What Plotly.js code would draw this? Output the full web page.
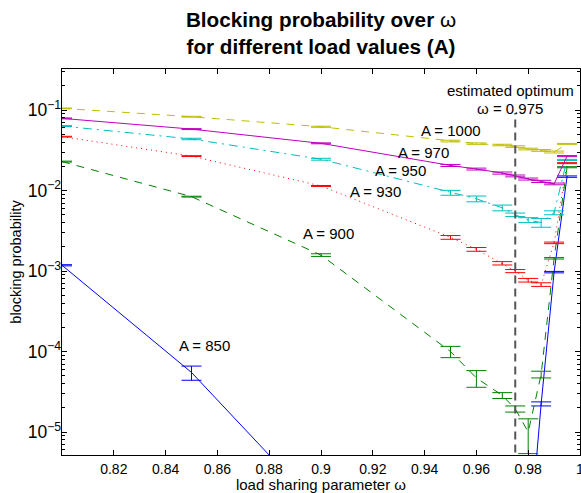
<!DOCTYPE html>
<html>
<head>
<meta charset="utf-8">
<script src="https://cdn.plot.ly/plotly-3.0.1.min.js"></script>
<style>html,body{margin:0;padding:0;background:#fff;}#chart{width:581px;height:493px;}</style>
</head>
<body>
<div id="chart"></div>
<script>
// ---- data ----
const omega = [0.8, 0.85, 0.9, 0.95, 0.96, 0.97, 0.975, 0.98, 0.985, 0.99, 0.995];
const loads = ['850', '900', '930', '950', '970', '1000'];
const pb850  = [1.18e-3, 5.5e-5, 1.07e-6, null, null, null, null, 3e-7, 2.24e-5, 9.7e-4, 1.49e-2];
const err850 = [2e-5, 1.1e-5, 0, null, null, null, null, 0, 1.3e-6, 2e-5, 3e-4];
const pb900  = [0.0229, 0.0084, 0.00158, 1.0e-4, 4.7e-5, 2.85e-5, 1.94e-5, 1.0e-5, 5.2e-5, 1.44e-3, 0.0195];
const err900 = [3e-4, 1e-4, 6e-5, 1.6e-5, 1.1e-5, 2.4e-6, 1.7e-6, 4.6e-6, 5e-6, 3e-5, 3e-4];
const pb930  = [0.0467, 0.0268, 0.0114, 0.00262, 0.00186, 0.00125, 0.00100, 0.00077, 0.00068, 0.00224, 0.0219];
const err930 = [5e-4, 3e-4, 1.5e-4, 1.4e-4, 1e-4, 6e-5, 4.5e-5, 4e-5, 3.5e-5, 5e-5, 3e-4];
const pb950  = [0.0633, 0.0437, 0.0245, 0.0094, 0.0079, 0.0061, 0.0050, 0.0043, 0.0040, 0.0053, 0.024];
const err950 = [8e-4, 9e-4, 6.5e-4, 6.6e-4, 6.5e-4, 5e-4, 2.5e-4, 3e-4, 5e-4, 3e-4, 4e-4];
const pb970  = [0.0788, 0.058, 0.0386, 0.0205, 0.0185, 0.0165, 0.0152, 0.0139, 0.0130, 0.0121, 0.0268];
const err970 = [1e-3, 8e-4, 5e-4, 6e-4, 5e-4, 5e-4, 4e-4, 4e-4, 4e-4, 3e-4, 4e-4];
const pb1000  = [0.105, 0.0826, 0.062, 0.0412, 0.0383, 0.0368, 0.0352, 0.0328, 0.0315, 0.0301, 0.038];
const err1000 = [1e-3, 1e-3, 1e-3, 1e-3, 8e-4, 8e-4, 8e-4, 8e-4, 8e-4, 8e-4, 5e-4];
const optimum = 0.975;
const optimumLineTop = 0.092;
const xTickVals = [0.82, 0.84, 0.86, 0.88, 0.9, 0.92, 0.94, 0.96, 0.98, 1.0];
const xTickText = ['0.82', '0.84', '0.86', '0.88', '0.9', '0.92', '0.94', '0.96', '0.98', '1'];
// label anchor points [omega, probability]
const labelPos = {
  '850': [0.8551, 1.18e-4],
  '900': [0.9029, 2.93e-3],
  '930': [0.921, 9.7e-3],
  '950': [0.9307, 1.75e-2],
  '970': [0.9396, 3.01e-2],
  '1000': [0.9503, 5.65e-2]
};

// ---- styles ----
const styles = {
  '850':  {color: 'rgb(0,0,255)',    dash: 'solid'},
  '900':  {color: 'rgb(0,128,0)',    dash: '8px,7px'},
  '930':  {color: 'rgb(255,0,0)',    dash: '1px,4px'},
  '950':  {color: 'rgb(0,191,191)',  dash: '9px,5px,2px,5px'},
  '970':  {color: 'rgb(191,0,191)',  dash: 'solid'},
  '1000': {color: 'rgb(191,191,0)',  dash: '8px,7px'}
};
const seriesY = {'850': pb850, '900': pb900, '930': pb930, '950': pb950, '970': pb970, '1000': pb1000};
const seriesE = {'850': err850, '900': err900, '930': err930, '950': err950, '970': err970, '1000': err1000};

const traces = [];
loads.forEach(a => {
  traces.push({
    type: 'scatter', mode: 'lines', x: omega, y: seriesY[a],
    line: {color: styles[a].color, width: 1, dash: styles[a].dash},
    error_y: {type: 'data', array: seriesE[a], visible: true, color: styles[a].color, thickness: 1, width: 10},
    connectgaps: false, hoverinfo: 'skip', name: 'A = ' + a
  });
});
traces.push({
  type: 'scatter', mode: 'lines', x: [optimum, optimum], y: [1e-8, optimumLineTop],
  line: {color: 'rgb(85,85,85)', width: 2, dash: '8px,5px'}, hoverinfo: 'skip'
});

const fontFam = 'Liberation Sans, Arial, Helvetica, sans-serif';
const annFont = {family: fontFam, size: 15, color: '#000'};
const annotations = loads.map(a => ({
  x: labelPos[a][0], y: Math.log10(labelPos[a][1]), xref: 'x', yref: 'y',
  text: 'A = ' + a, showarrow: false, font: annFont
}));
annotations.push({
  x: 0.9731, y: -0.758, xref: 'x', yref: 'y', text: 'estimated optimum', showarrow: false, font: annFont
});
annotations.push({
  x: 0.9731, y: -0.981, xref: 'x', yref: 'y', text: 'ω = ' + optimum, showarrow: false, font: annFont
});

const layout = {
  width: 581, height: 493,
  margin: {l: 62, r: 1, t: 69, b: 38},
  paper_bgcolor: '#fff', plot_bgcolor: '#fff',
  showlegend: false,
  font: {family: fontFam, color: '#000'},
  title: {
    text: '<b>Blocking probability over </b>ω<br><b>for different load values (A)</b>',
    x: 0.5, xref: 'paper', xanchor: 'center', y: 0.945, yref: 'container', yanchor: 'top',
    font: {family: fontFam, size: 20.7, color: '#000'}
  },
  xaxis: {
    range: [0.8, 1.0], tickvals: xTickVals, ticktext: xTickText,
    ticks: 'inside', ticklen: 5, tickcolor: '#000', mirror: 'ticks',
    showline: true, linecolor: '#000', linewidth: 1, showgrid: false, zeroline: false,
    ticklabeloverflow: 'allow', ticklabelstandoff: 1,
    tickfont: {family: fontFam, size: 14, color: '#000'},
    title: {text: 'load sharing parameter ω', font: {family: fontFam, size: 15, color: '#000'}, standoff: 6}
  },
  yaxis: {
    type: 'log', range: [-5.285, -0.49], dtick: 1, exponentformat: 'power',
    ticks: 'inside', ticklen: 5, tickcolor: '#000', mirror: 'ticks',
    minor: {ticks: 'inside', ticklen: 3, tickcolor: '#000', showgrid: false},
    showline: true, linecolor: '#000', linewidth: 1, showgrid: false, zeroline: false,
    ticklabelstandoff: -3,
    tickfont: {family: fontFam, size: 14, color: '#000'},
    title: {text: 'blocking probability', font: {family: fontFam, size: 14.5, color: '#000'}, standoff: 2}
  },
  annotations: annotations
};

Plotly.newPlot('chart', traces, layout, {staticPlot: true, displayModeBar: false});
</script>
</body>
</html>
